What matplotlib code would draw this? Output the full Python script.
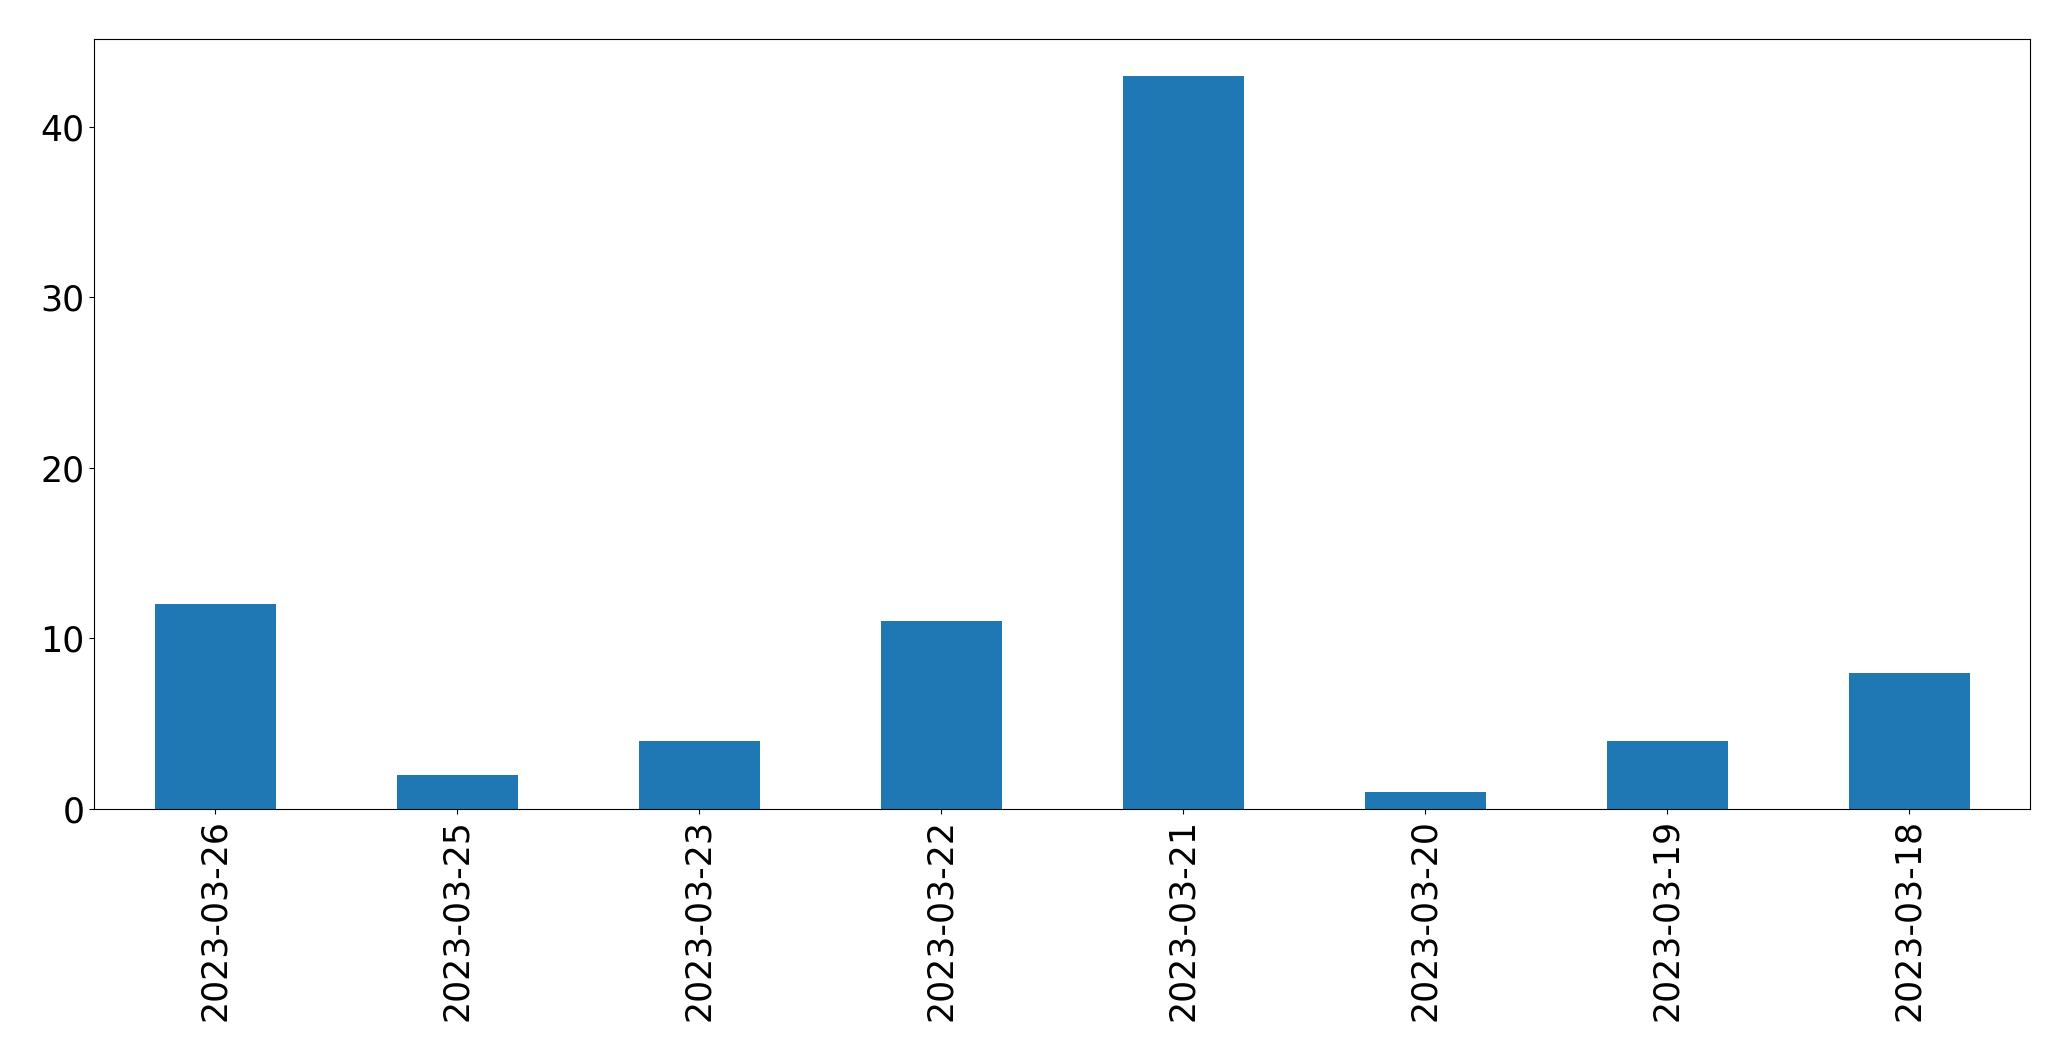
import numpy as np
import matplotlib
matplotlib.use("Agg")
import matplotlib.pyplot as plt

dates = ["2023-03-26", "2023-03-25", "2023-03-23", "2023-03-22",
         "2023-03-21", "2023-03-20", "2023-03-19", "2023-03-18"]
counts = [12, 2, 4, 11, 43, 1, 4, 8]

fig = plt.figure(figsize=(20.71, 10.61), dpi=100)
ax = fig.add_axes([94/2071, 1-809/1061, (2030-94)/2071, (809-39)/1061])

x = np.arange(len(dates))
ax.bar(x, counts, width=0.5, color='#1f77b4')
ax.set_xlim(-0.5, len(dates)-0.5)
ax.set_ylim(0, 45.15)
ax.set_xticks(x)
ax.set_xticklabels(dates, rotation=90)
ax.tick_params(labelsize=25)

fig.savefig("out.png", dpi=100)
